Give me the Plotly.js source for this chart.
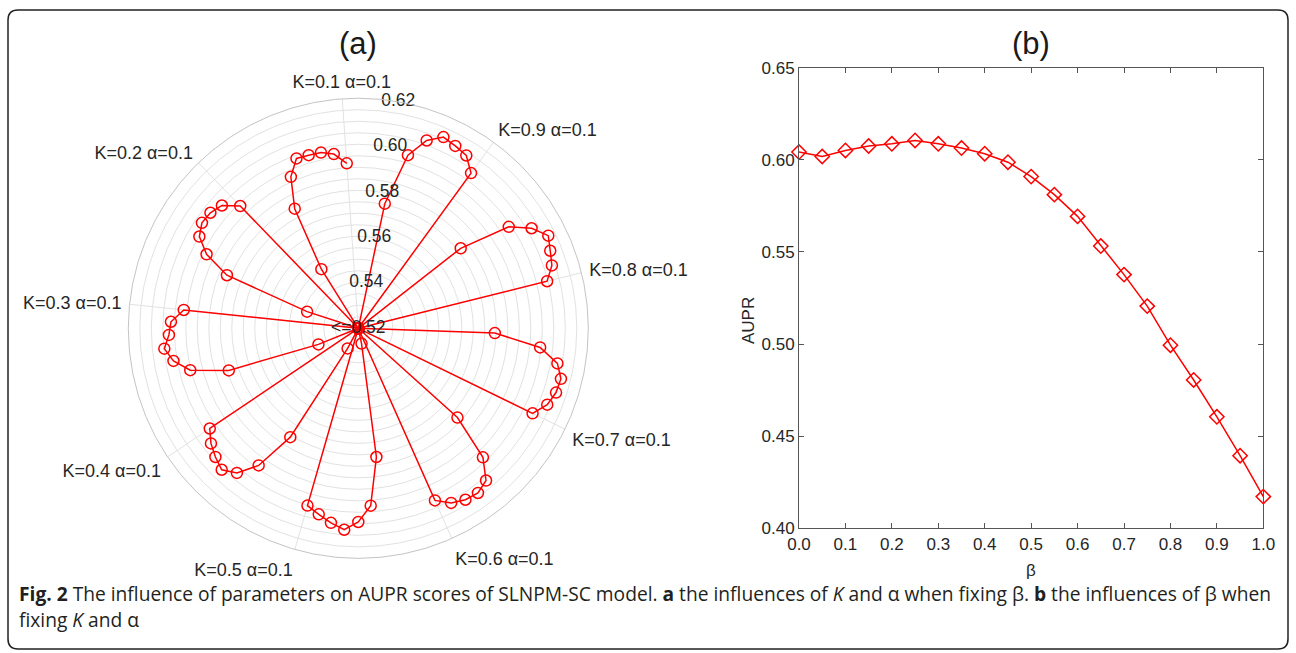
<!DOCTYPE html>
<html><head><meta charset="utf-8">
<script src="https://cdn.plot.ly/plotly-3.0.1.min.js"></script>
<style>html,body{margin:0;padding:0;background:#fff}#chart{width:1296px;height:653px}</style>
</head><body><div id="chart"></div>
<script>
// ---- Data (a): AUPR for each K, alpha = 0.1 .. 1.0 (values <= 0.52 shown at the centre)
const kValues = [0.1, 0.2, 0.3, 0.4, 0.5, 0.6, 0.7, 0.8, 0.9];
const alphaValues = [0.1, 0.2, 0.3, 0.4, 0.5, 0.6, 0.7, 0.8, 0.9, 1.0];
const auprK01 = [0.5919, 0.5965, 0.5981, 0.5983, 0.5986, 0.5921, 0.5789, 0.5503, 0.52, 0.52];
const auprK02 = [0.5939, 0.5998, 0.6016, 0.6020, 0.5998, 0.5934, 0.5816, 0.5434, 0.52, 0.52];
const auprK03 = [0.5963, 0.6015, 0.6024, 0.6048, 0.6016, 0.5953, 0.5792, 0.5387, 0.52, 0.52];
const auprK04 = [0.5979, 0.6013, 0.6036, 0.6055, 0.6021, 0.5937, 0.5758, 0.5299, 0.52, 0.52];
const auprK05 = [0.6002, 0.6027, 0.6054, 0.6078, 0.6042, 0.5973, 0.5765, 0.5268, 0.52, 0.52];
const auprK06 = [0.6019, 0.6060, 0.6079, 0.6085, 0.6064, 0.5980, 0.5780, 0.52, 0.52, 0.52];
const auprK07 = [0.6043, 0.6086, 0.6104, 0.6108, 0.6079, 0.5995, 0.5794, 0.52, 0.52, 0.52];
const auprK08 = [0.6046, 0.6085, 0.6100, 0.6119, 0.6070, 0.5989, 0.5765, 0.52, 0.52, 0.52];
const auprK09 = [0.6034, 0.6086, 0.6098, 0.6110, 0.6069, 0.5983, 0.5754, 0.52, 0.52, 0.52];
const radialTickValues = [0.52, 0.54, 0.56, 0.58, 0.60, 0.62];
const radialTickLabels = ['<=0.52', '0.54', '0.56', '0.58', '0.60', '0.62'];
const angularTickLabels = kValues.map(k => 'K=' + k + ' \u03b1=0.1');

// ---- Data (b): AUPR vs beta
const betaValues = [0, 0.05, 0.10, 0.15, 0.20, 0.25, 0.30, 0.35, 0.40, 0.45, 0.50,
                    0.55, 0.60, 0.65, 0.70, 0.75, 0.80, 0.85, 0.90, 0.95, 1.00];
const auprBeta = [0.6042, 0.6018, 0.6051, 0.6075, 0.6087, 0.6105, 0.6087, 0.6064, 0.6033, 0.5987, 0.5909,
                  0.5811, 0.5693, 0.5532, 0.5377, 0.5206, 0.4994, 0.4805, 0.4605, 0.4394, 0.4172];

// ---- build polar series
const allK = [auprK01, auprK02, auprK03, auprK04, auprK05, auprK06, auprK07, auprK08, auprK09];
const rAll = [].concat(...allK);
const nPts = kValues.length * alphaValues.length;
const step = 360 / nPts;
const thetaAll = rAll.map((_, i) => i * step);
const angTickVals = kValues.map((_, i) => i * alphaValues.length * step);

const RED = '#ff0000';
const TXT = '#262626';
const FONT = 'Arial, "Liberation Sans", sans-serif';
const CAP_FONT = '"Open Sans", "Noto Sans", sans-serif';

const traces = [
  {
    type: 'scatterpolar', r: rAll, theta: thetaAll, mode: 'lines+markers',
    line: {color: RED, width: 1.5},
    marker: {symbol: 'circle-open', size: 11, color: RED, line: {color: RED, width: 1.5}},
    cliponaxis: false, hoverinfo: 'none', showlegend: false, subplot: 'polar'
  },
  {
    type: 'scatterpolar', r: radialTickValues, theta: radialTickValues.map(() => -14),
    mode: 'text', text: radialTickLabels, textposition: 'middle center',
    textfont: {family: FONT, size: 17.5, color: TXT},
    cliponaxis: false, hoverinfo: 'none', showlegend: false, subplot: 'polar'
  },
  {
    type: 'scatter', x: betaValues, y: auprBeta, mode: 'lines+markers',
    line: {color: RED, width: 1.5},
    marker: {symbol: 'diamond-open', size: 11, color: RED, line: {color: RED, width: 1.5}},
    cliponaxis: false, hoverinfo: 'none', showlegend: false, xaxis: 'x', yaxis: 'y'
  }
];

// rounded border path in paper coords
const W = 1296, H = 653;
const bx0 = 8 / W, bx1 = 1288 / W, byT = 1 - 10 / H, byB = 1 - 649 / H;
const rx = 10 / W, ry = 10 / H;
const borderPath = `M ${bx0 + rx},${byT} L ${bx1 - rx},${byT} Q ${bx1},${byT} ${bx1},${byT - ry} ` +
  `L ${bx1},${byB + ry} Q ${bx1},${byB} ${bx1 - rx},${byB} L ${bx0 + rx},${byB} ` +
  `Q ${bx0},${byB} ${bx0},${byB + ry} L ${bx0},${byT - ry} Q ${bx0},${byT} ${bx0 + rx},${byT} Z`;

const GRID = '#e2e2e2';
const AX = '#555555';

const layout = {
  width: W, height: H,
  margin: {l: 0, r: 0, t: 0, b: 0},
  paper_bgcolor: '#ffffff', plot_bgcolor: '#ffffff',
  font: {family: FONT, size: 17, color: TXT},
  showlegend: false,
  polar: {
    domain: {x: [128.3 / W, 588.3 / W], y: [94.7 / H, 554.7 / H]},
    bgcolor: '#ffffff',
    angularaxis: {
      rotation: 94, direction: 'counterclockwise',
      tickmode: 'array', tickvals: angTickVals, ticktext: angularTickLabels,
      ticks: 'outside', ticklen: 4, tickcolor: 'rgba(0,0,0,0)',
      showgrid: true, gridcolor: GRID, gridwidth: 1,
      showline: true, linecolor: '#c4c4c4', linewidth: 1,
      tickfont: {family: FONT, size: 18, color: TXT}
    },
    radialaxis: {
      range: [0.52, 0.62], tickmode: 'linear', tick0: 0.52, dtick: 0.005,
      showticklabels: false, ticks: '', showline: false,
      showgrid: true, gridcolor: GRID, gridwidth: 1
    }
  },
  xaxis: {
    domain: [799 / W, 1263.3 / W], range: [0, 1],
    tickmode: 'linear', tick0: 0, dtick: 0.1, tickformat: '.1f',
    ticks: 'inside', ticklen: 5, tickcolor: AX, tickwidth: 1,
    showline: true, linecolor: AX, linewidth: 1, mirror: 'ticks',
    showgrid: false, zeroline: false,
    tickfont: {family: FONT, size: 17, color: TXT}
  },
  yaxis: {
    domain: [124.7 / H, 585.3 / H], range: [0.40, 0.65],
    tickmode: 'linear', tick0: 0.40, dtick: 0.05, tickformat: '.2f',
    ticks: 'inside', ticklen: 5, tickcolor: AX, tickwidth: 1,
    showline: true, linecolor: AX, linewidth: 1, mirror: 'ticks',
    showgrid: false, zeroline: false,
    tickfont: {family: FONT, size: 17, color: TXT}
  },
  annotations: [
    {text: '(a)', xref: 'paper', yref: 'paper', x: 358.3 / W, y: 1 - 43 / H,
     xanchor: 'center', yanchor: 'middle', showarrow: false,
     font: {family: FONT, size: 31, color: '#1a1a1a'}},
    {text: '(b)', xref: 'paper', yref: 'paper', x: 1031 / W, y: 1 - 43 / H,
     xanchor: 'center', yanchor: 'middle', showarrow: false,
     font: {family: FONT, size: 31, color: '#1a1a1a'}},
    {text: 'AUPR', xref: 'paper', yref: 'paper', x: 748 / W, y: 1 - 321 / H,
     xanchor: 'center', yanchor: 'middle', showarrow: false, textangle: -90,
     font: {family: FONT, size: 17, color: TXT}},
    {text: '\u03b2', xref: 'paper', yref: 'paper', x: 1031 / W, y: 1 - 570 / H,
     xanchor: 'center', yanchor: 'middle', showarrow: false,
     font: {family: FONT, size: 17, color: TXT}},
    {text: '<b>Fig. 2</b> The influence of parameters on AUPR scores of SLNPM-SC model. <b>a</b> the influences of <i>K</i> and \u03b1 when fixing \u03b2. <b>b</b> the influences of \u03b2 when',
     xref: 'paper', yref: 'paper', x: 17 / W, y: 1 - 593 / H, xanchor: 'left', yanchor: 'middle',
     showarrow: false, align: 'left',
     font: {family: CAP_FONT, size: 19.2, color: '#231f20'}},
    {text: 'fixing <i>K</i> and \u03b1',
     xref: 'paper', yref: 'paper', x: 17 / W, y: 1 - 619 / H, xanchor: 'left', yanchor: 'middle',
     showarrow: false, align: 'left',
     font: {family: CAP_FONT, size: 19.2, color: '#231f20'}}
  ],
  shapes: [
    {type: 'path', xref: 'paper', yref: 'paper', path: borderPath,
     line: {color: '#222222', width: 1.5}, fillcolor: 'rgba(0,0,0,0)', layer: 'above'}
  ]
};

Plotly.newPlot('chart', traces, layout, {staticPlot: true, displayModeBar: false});
</script>
</body></html>
